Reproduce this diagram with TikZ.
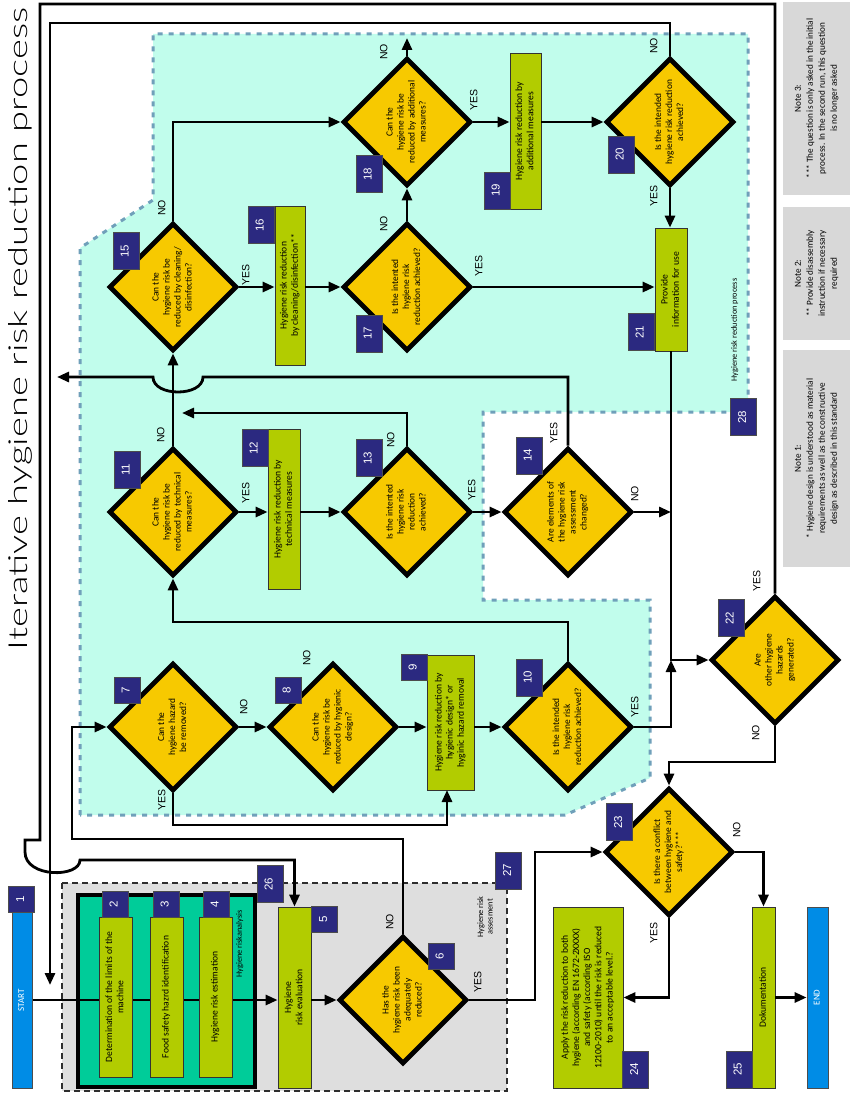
\documentclass[tikz,border=0pt]{standalone}
\usepackage{fontspec}
\usepackage{graphicx}
\setmainfont{Carlito}
\newfontfamily\labfont{Liberation Sans}
\IfFontExistsTF{Lato Light}{\newfontfamily\titlefont{Lato Light}}{\newfontfamily\titlefont{Lato}}
\usetikzlibrary{shapes.geometric,arrows.meta,calc}
\pgfdeclarelayer{back}
\pgfdeclarelayer{mid}
\pgfsetlayers{back,mid,main}
\definecolor{mint}{RGB}{193,253,236}
\definecolor{mintborder}{RGB}{112,160,186}
\definecolor{dyellow}{RGB}{247,201,0}
\definecolor{lgreen}{RGB}{178,204,0}
\definecolor{tealbox}{RGB}{0,204,153}
\definecolor{navy}{RGB}{43,41,128}
\definecolor{startblue}{RGB}{0,140,230}
\definecolor{areagray}{RGB}{222,222,222}
\definecolor{notegray}{RGB}{216,216,216}
\definecolor{darkdash}{RGB}{45,45,45}
\newcommand{\rt}[1]{\rotatebox{90}{\begin{tabular}{@{}c@{}}#1\end{tabular}}}
\tikzset{
  conn/.style={line width=2.8pt, -{Triangle[length=12pt,width=10pt]}},
  dia/.style={diamond, draw=black, line width=4.8pt, fill=dyellow, minimum size=128pt, inner sep=-16pt, font=\fontsize{9.4}{11}\selectfont},
  gbox/.style={rectangle, draw=black!80, line width=0.8pt, fill=lgreen, inner sep=0pt, font=\fontsize{9.6}{11.2}\selectfont},
  bluebox/.style={rectangle, draw=black!70, line width=0.8pt, fill=startblue, text=white, inner sep=0pt, font=\fontsize{9}{11}\selectfont},
  badge/.style={rectangle, draw=black!70, line width=0.6pt, fill=navy, text=white, minimum width=26pt, minimum height=26pt, inner sep=0pt, font=\labfont\fontsize{11.5}{13}\selectfont},
  badgel/.style={badge, minimum height=37pt},
  yn/.style={inner sep=0pt, font=\labfont\fontsize{10.5}{12}\selectfont},
  arealabel/.style={inner sep=0pt, font=\fontsize{8.3}{9.5}\selectfont},
  notebox/.style={rectangle, fill=notegray, inner sep=0pt, minimum width=67pt, font=\fontsize{9.2}{12}\selectfont},
  mintdash/.style={draw=mintborder, line width=3pt, dash pattern=on 5pt off 6pt},
  graydash/.style={draw=darkdash, line width=2.5pt, dash pattern=on 6pt off 4pt}
}
\begin{document}
\begin{tikzpicture}[x=1pt,y=-1pt]
\useasboundingbox (0,0) rectangle (851,1094);
\begin{pgfonlayer}{back}
  \fill[white] (0,0) rectangle (851,1094);
  \draw[graydash, fill=areagray] (62,883) rectangle (507,1091);
  \draw[mintdash, fill=mint] (80,815) -- (80,248) -- (153,200) -- (153,34) -- (748,34) -- (748,412) -- (483,412) -- (483,600) -- (650,600) -- (650,778) -- (565,815) -- cycle;
  \draw[line width=3.2pt, fill=tealbox] (78,895) rectangle (255,1087);
\end{pgfonlayer}

% title
\node[inner sep=0pt] (title) at (20,329) {\rotatebox{90}{\resizebox{642pt}{19pt}{\titlefont Iterative hygiene risk reduction process}}};

% notes
\node[notebox, minimum height=193pt] (note3) at (816.5,98.5) {\rt{Note 3:\\{***} The question is only asked in the initial\\process. In the second run, this question\\is no longer asked}};
\node[notebox, minimum height=133pt] (note2) at (816.5,273.5) {\rt{Note 2:\\{**} Provide disassembly\\instruction if necessary\\required}};
\node[notebox, minimum height=217pt] (note1) at (816.5,458.5) {\rt{Note 1:\\{*} Hygiene design is understood as material\\requirements as well as the constructive\\design as described in this standard}};

% area labels
\node[arealabel] (lab26) at (240,944) {\rt{Hygiene riskanalysis}};
\node[arealabel] (lab27) at (486,917) {\rt{Hygiene risk\\assesment}};
\node[arealabel] (lab28) at (735,330) {\rt{Hygiene risk reduction process}};

% boxes
\node[bluebox, minimum width=20pt, minimum height=176pt] (start) at (22,1000) {\rt{START}};
\node[gbox, minimum width=33pt, minimum height=160pt] (box2) at (115.5,997) {\rt{Determination of the limits of the\\machine}};
\node[gbox, minimum width=33pt, minimum height=160pt] (box3) at (166.5,997) {\rt{Food safety hazrd identification}};
\node[gbox, minimum width=33pt, minimum height=160pt] (box4) at (215.5,997) {\rt{Hygiene risk estimation}};
\node[gbox, minimum width=33pt, minimum height=181pt] (box5) at (294.5,997.5) {\rt{Hygiene\\risk evaluation}};
\node[gbox, minimum width=47pt, minimum height=135pt] (box9) at (450.5,722.5) {\rt{Hygiene risk reduction by\\hygienic design* or\\hyginic hazard removal}};
\node[gbox, minimum width=32pt, minimum height=160pt] (box12) at (284,509) {\rt{Hygiene risk reduction by\\technical measures}};
\node[gbox, minimum width=30pt, minimum height=159pt] (box16) at (290,285.5) {\rt{Hygiene risk reduction\\by cleaning/disinfection**}};
\node[gbox, minimum width=31pt, minimum height=156pt] (box19) at (525.5,131) {\rt{Hygiene risk reduction by\\additional measures}};
\node[gbox, minimum width=32pt, minimum height=123pt] (box21) at (671,289.5) {\rt{Provide\\information for use}};
\node[gbox, minimum width=70pt, minimum height=181pt] (box24) at (588,997.5) {\rt{Apply the risk reduction to both\\hygiene (according EN 1672-2XXXX)\\and safety (according ISO\\12100-2010) until the risk is reduced\\to an acceptable level.?}};
\node[gbox, minimum width=23pt, minimum height=181pt] (box25) at (763.5,997.5) {\rt{Dokumentation}};
\node[bluebox, minimum width=21pt, minimum height=181pt] (end) at (817.5,997.5) {\rt{END}};

% diamonds
\node[dia] (d6) at (403,1000) {\rt{Has the\\hygiene risk been\\adequately\\reduced?}};
\node[dia] (d7) at (173,727) {\rt{Can the\\hygiene hazard\\be removed?}};
\node[dia] (d8) at (333,727) {\rt{Can the\\hygiene risk be\\reduced by hygienic\\design?}};
\node[dia] (d10) at (568,727) {\rt{Is the intended\\hygiene risk\\reduction achieved?}};
\node[dia] (d11) at (173,512) {\rt{Can the\\hygiene risk be\\reduced by technical\\measures?}};
\node[dia] (d13) at (407,512) {\rt{Is the intented\\hygiene risk\\reduction\\achieved?}};
\node[dia] (d14) at (568,512) {\rt{Are elements of\\the hygiene risk\\assessment\\changed?}};
\node[dia] (d15) at (173,287) {\rt{Can the\\hygiene risk be\\reduced by cleaning/\\disinfection?}};
\node[dia] (d17) at (407,287) {\rt{Is the intented\\hygiene risk\\reduction achieved?}};
\node[dia] (d18) at (407,122) {\rt{Can the\\hygiene risk be\\reduced by additional\\measures?}};
\node[dia] (d20) at (670,122) {\rt{Is the intended\\hygiene risk reduction\\achieved?}};
\node[dia] (d22) at (775,660) {\rt{Are\\other hygiene\\hazards\\generated?}};
\node[dia] (d23) at (669,852) {\rt{Is there a conflict\\between hygiene and\\safety?***}};

% badges
\node[badge] (n1) at (21.5,899) {\rt{1}};
\node[badge] (n2) at (115,904.5) {\rt{2}};
\node[badge] (n3) at (166,904.5) {\rt{3}};
\node[badge] (n4) at (216,904.5) {\rt{4}};
\node[badge] (n5) at (324.5,919.5) {\rt{5}};
\node[badge] (n6) at (441,956) {\rt{6}};
\node[badge] (n7) at (127,690) {\rt{7}};
\node[badge] (n8) at (288,690) {\rt{8}};
\node[badge] (n9) at (414,667.5) {\rt{9}};
\node[badgel] (n10) at (529,677.5) {\rt{10}};
\node[badgel] (n11) at (127,470) {\rt{11}};
\node[badgel] (n12) at (255,448) {\rt{12}};
\node[badgel] (n13) at (369,458) {\rt{13}};
\node[badgel] (n14) at (529,455.5) {\rt{14}};
\node[badgel] (n15) at (126,251) {\rt{15}};
\node[badgel] (n16) at (261,225) {\rt{16}};
\node[badgel] (n17) at (369,333.5) {\rt{17}};
\node[badgel] (n18) at (369,174) {\rt{18}};
\node[badgel] (n19) at (497,190.5) {\rt{19}};
\node[badgel] (n20) at (621,154.5) {\rt{20}};
\node[badgel] (n21) at (641,332) {\rt{21}};
\node[badgel] (n22) at (731,618) {\rt{22}};
\node[badgel] (n23) at (619.5,822) {\rt{23}};
\node[badgel] (n24) at (635.5,1069.5) {\rt{24}};
\node[badgel] (n25) at (739,1069.5) {\rt{25}};
\node[badgel] (n26) at (270,884) {\rt{26}};
\node[badgel] (n27) at (508.5,870.5) {\rt{27}};
\node[badgel] (n28) at (743.5,417) {\rt{28}};

% YES / NO labels
\node[yn] (l15n) at (163,208) {\rt{NO}};
\node[yn] (l15y) at (247,275) {\rt{YES}};
\node[yn] (l18n) at (385,52) {\rt{NO}};
\node[yn] (l18y) at (475,100) {\rt{YES}};
\node[yn] (l17n) at (385,224) {\rt{NO}};
\node[yn] (l17y) at (480,266) {\rt{YES}};
\node[yn] (l20n) at (655,46) {\rt{NO}};
\node[yn] (l20y) at (655,196) {\rt{YES}};
\node[yn] (l11n) at (162,435) {\rt{NO}};
\node[yn] (l11y) at (247,493) {\rt{YES}};
\node[yn] (l13n) at (392,440) {\rt{NO}};
\node[yn] (l13y) at (473,490) {\rt{YES}};
\node[yn] (l14y) at (555,433) {\rt{YES}};
\node[yn] (l14n) at (636,494) {\rt{NO}};
\node[yn] (l7n) at (245,707) {\rt{NO}};
\node[yn] (l7y) at (163,800) {\rt{YES}};
\node[yn] (l8n) at (308,658) {\rt{NO}};
\node[yn] (l10y) at (636,707) {\rt{YES}};
\node[yn] (l22y) at (758,581) {\rt{YES}};
\node[yn] (l22n) at (757,733) {\rt{NO}};
\node[yn] (l23n) at (738,830) {\rt{NO}};
\node[yn] (l23y) at (655,933) {\rt{YES}};
\node[yn] (l6n) at (391,922) {\rt{NO}};
\node[yn] (l6y) at (479,982) {\rt{YES}};

% free-end coordinates
\coordinate (j21) at (671,660);
\coordinate (e20) at (50,985);
\coordinate (e14) at (57,377);
\coordinate (e13) at (182,413);
\coordinate (e18) at (407,38);

% connectors
\begin{pgfonlayer}{mid}
  \draw[conn] (start.east) -- (start.east -| box5.west);
\end{pgfonlayer}
\draw[conn] (d6.west -| box5.east) -- (d6.west);
\draw[conn] (d6.north) |- (72,839) |- (d7.west);
\draw[conn] (d7.south) |- (447,825) -- (447,790);
\draw[conn] (d7.east) -- (d8.west);
\draw[conn] (d8.east) -- (d8.east -| box9.west);
\draw[conn] (d10.west -| box9.east) -- (d10.west);
\draw[conn] (d10.north) |- (173,622) -- (d11.south);
\draw[conn] (d10.east) -| (j21);
\draw[conn] (box21.south) |- (d22.west);
\draw[conn] (d14.east) -- (d14.east -| j21);
\draw[conn] (d11.east) -- (d11.east -| box12.west);
\draw[conn] (d13.west -| box12.east) -- (d13.west);
\draw[conn] (d13.east) -- (d14.west);
\draw[conn] (d13.north) |- (e13);
\draw[conn] (d11.north) -- (d15.south);
\draw[conn] (d14.north) |- (203,377) .. controls (203,397) and (153,397) .. (153,377) -- (e14);
\draw[conn] (d15.east) -- (d15.east -| box16.west);
\draw[conn] (d17.west -| box16.east) -- (d17.west);
\draw[conn] (d15.north) |- (d18.west);
\draw[conn] (d17.north) -- (d18.south);
\draw[conn] (d17.east) -- (d17.east -| box21.west);
\draw[conn] (d18.north) -- (e18);
\draw[conn] (d18.east) -- (d18.east -| box19.west);
\draw[conn] (d20.west -| box19.east) -- (d20.west);
\draw[conn] (d20.south) -- (d20.south |- box21.north);
\draw[conn] (d20.north) |- (50,23) -- (e20);
\draw[conn] (d22.north) |- (40,4) -- (40,840) -- (25,840) -- (25,852) .. controls (25,878) and (80,878) .. (80,860) -| (box5.north);
\draw[conn] (d22.south) |- (669,762) -- (d23.north);
\draw[conn] (d23.east) -| (box25.north);
\draw[conn] (box25.east) -- (box25.east -| end.west);
\draw[conn] (d23.south) |- (box24.east);
\draw[conn] (d6.east) -| (535,852) -- (d23.west);
\end{tikzpicture}
\end{document}
